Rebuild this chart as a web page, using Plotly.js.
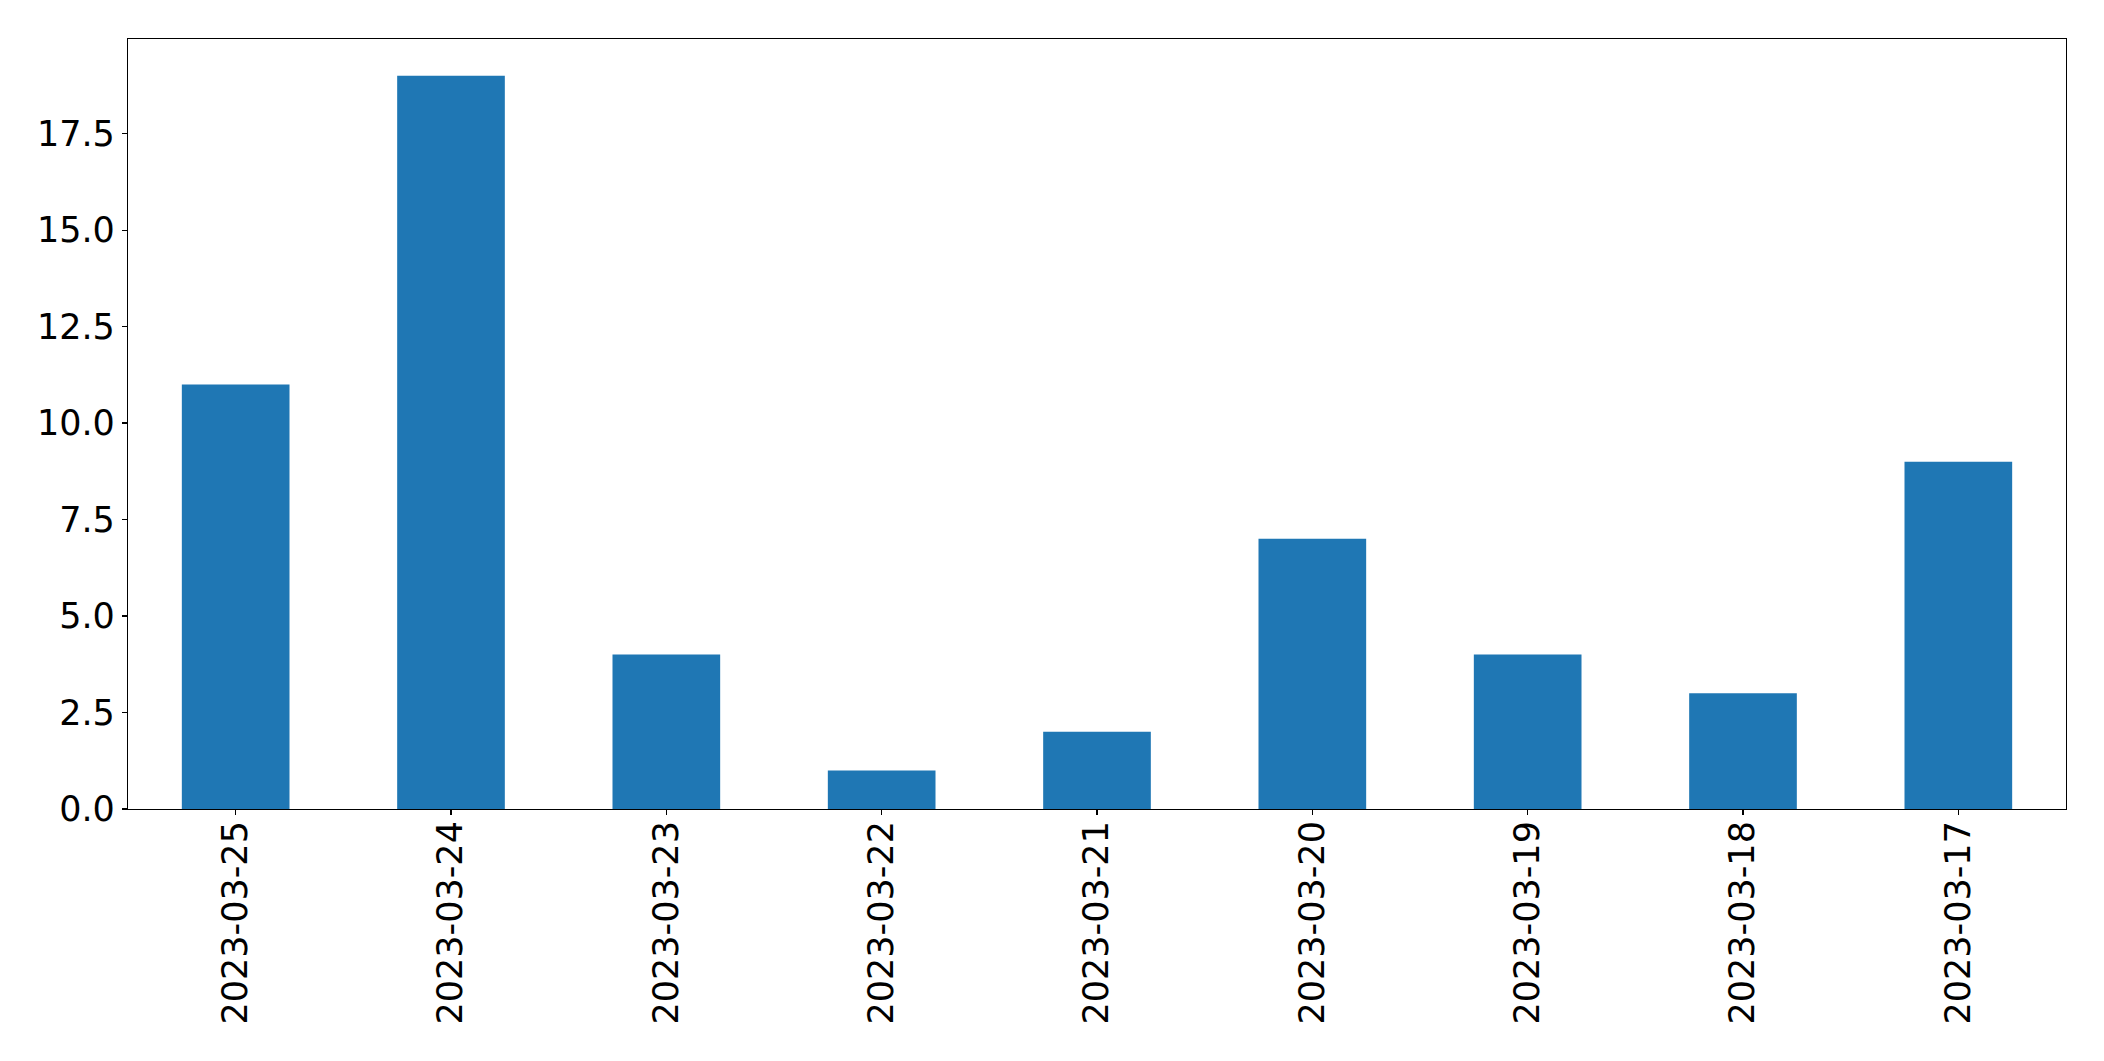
<!DOCTYPE html>
<html>
<head>
<meta charset="utf-8">
<script src="https://cdn.plot.ly/plotly-3.0.1.min.js"></script>
<style>html,body{margin:0;padding:0;background:#fff;}#chart{width:2104px;height:1061px;}</style>
</head>
<body>
<div id="chart"></div>
<script>
const categories = ["2023-03-25","2023-03-24","2023-03-23","2023-03-22","2023-03-21","2023-03-20","2023-03-19","2023-03-18","2023-03-17"];
const values = [11, 19, 4, 1, 2, 7, 4, 3, 9];
const yTicks = [0, 2.5, 5, 7.5, 10, 12.5, 15, 17.5];

const font = {family: "DejaVu Sans", size: 35, color: "#000"};
Plotly.newPlot("chart", [{
  type: "bar",
  x: categories,
  y: values,
  width: 0.5,
  marker: {color: "#1f77b4", line: {width: 0}},
  hoverinfo: "x+y"
}], {
  width: 2104, height: 1061,
  margin: {l: 127.5, r: 38.3, t: 39.3, b: 252},
  paper_bgcolor: "#fff", plot_bgcolor: "#fff",
  showlegend: false,
  font: font,
  xaxis: {
    type: "category", range: [-0.5, 8.5],
    showline: true, mirror: true, linecolor: "#000", linewidth: 1.1,
    ticks: "outside", ticklen: 5, tickwidth: 1.1, tickcolor: "#000",
    tickangle: -90, tickfont: font, showgrid: false, zeroline: false,
    ticklabelstandoff: -8
  },
  yaxis: {
    range: [0, 19.95], tickvals: yTicks, tickformat: ".1f",
    showline: true, mirror: true, linecolor: "#000", linewidth: 1.1,
    ticks: "outside", ticklen: 5, tickwidth: 1.1, tickcolor: "#000",
    tickfont: font, showgrid: false, zeroline: false
  }
}, {displayModeBar: false, staticPlot: true});
</script>
</body>
</html>
